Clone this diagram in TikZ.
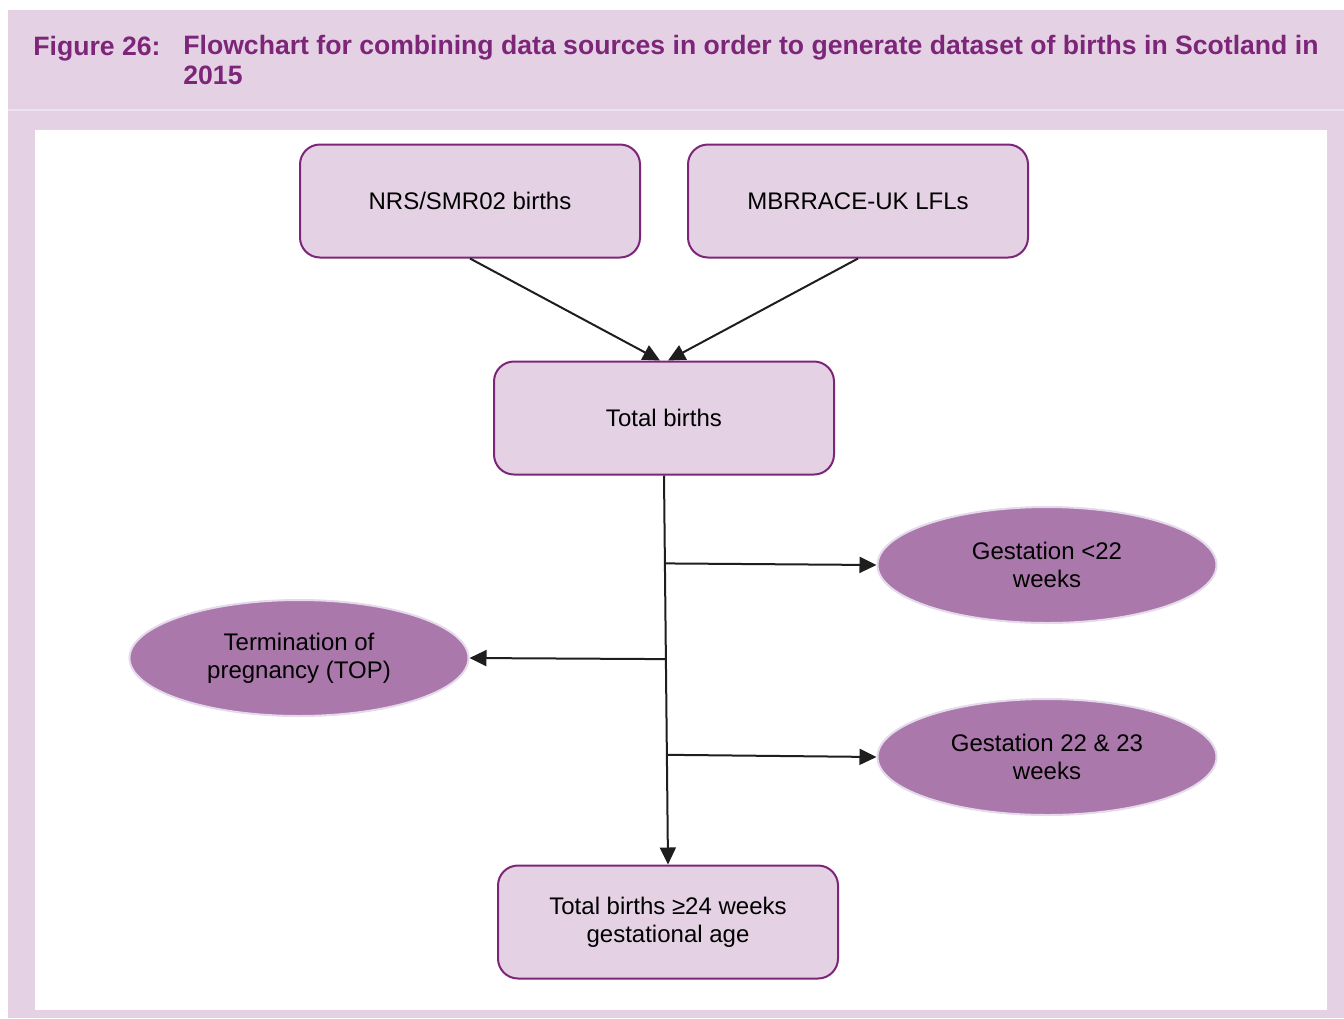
\documentclass[tikz,border=0pt]{standalone}
\usepackage{fontspec}
\setmainfont{Liberation Sans}
\usepackage{xcolor}
\definecolor{fig-purple}{RGB}{125,38,121}
\definecolor{fig-pink}{RGB}{228,210,228}
\definecolor{fig-rule}{RGB}{236,226,240}
\definecolor{oval-fill}{RGB}{170,120,170}
\definecolor{oval-edge}{RGB}{228,218,236}
\definecolor{line-dark}{RGB}{30,30,30}
\usetikzlibrary{arrows.meta,shapes.geometric,calc}

\begin{document}
\begin{tikzpicture}[
  x=0.5pt, y=-0.5pt,
  every node/.style={font=\fontsize{12}{14}\selectfont, text=black},
  sourcebox/.style={
    draw=fig-purple, fill=fig-pink, line width=1pt,
    rounded corners=10pt, minimum width=170pt, minimum height=56.5pt,
    align=center
  },
  outcome/.style={
    ellipse, draw=oval-edge, fill=oval-fill, line width=1pt,
    minimum width=169.5pt, minimum height=58pt, inner sep=0pt,
    align=center
  },
  flow/.style={
    draw=line-dark, line width=1pt,
    -{Triangle[length=8.5pt,width=8pt]}
  }
]

% Background and frame
\useasboundingbox (0,0) rectangle (1344,1018);
\fill[fig-pink] (8,10) rectangle (1344,1018);
\fill[white] (35,130) rectangle (1327,1010);
\draw[fig-rule, line width=0.75pt] (8,110) -- (1344,110);

% Title
\node[anchor=base west, inner sep=0pt, text=fig-purple,
  font=\fontsize{13.3}{15}\selectfont\bfseries] (figno) at (33,55) {Figure 26:};
\node[anchor=north west, inner sep=0pt, text=fig-purple, align=left,
  font=\fontsize{13.3}{15}\selectfont\bfseries] (title) at (183,35)
  {Flowchart for combining data sources in order to generate dataset of births in Scotland in\\2015};

% Sources
\node[sourcebox] (nrs) at (470,201) {NRS/SMR02 births};
\node[sourcebox] (mbrrace) at (858,201) {MBRRACE-UK LFLs};
\node[sourcebox] (total) at (664,418) {Total births};
\node[sourcebox] (final) at (668,922) {Total births ≥24 weeks\\gestational age};

% Excluded groups
\node[outcome] (lt22) at (1047,565) {Gestation <22\\weeks};
\node[outcome] (top) at (299,658) {Termination of\\pregnancy (TOP)};
\node[outcome] (g2223) at (1047,757) {Gestation 22 \& 23\\weeks};

% Connectors
\draw[flow] (nrs.south) -- ($(total.north)+(-4,0)$);
\draw[flow] (mbrrace.south) -- ($(total.north)+(4,0)$);
\draw[flow] (total.south) -- (final.north);

\coordinate (split1) at ($(total.south)!0.226!(final.north)$);
\coordinate (split2) at ($(total.south)!0.472!(final.north)$);
\coordinate (split3) at ($(total.south)!0.718!(final.north)$);

\draw[flow] (split1) -- (lt22.west);
\draw[flow] (split2) -- (top.east);
\draw[flow] (split3) -- (g2223.west);

\end{tikzpicture}
\end{document}
